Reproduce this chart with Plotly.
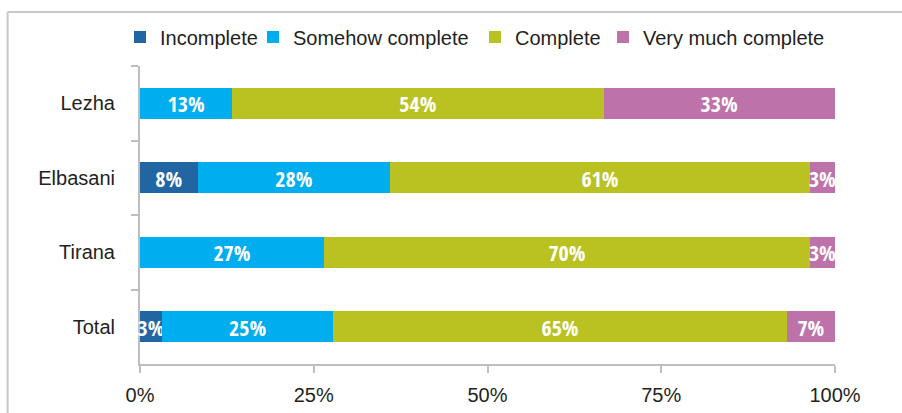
import plotly.graph_objects as go

categories = ["Lezha", "Elbasani", "Tirana", "Total"]
series_names = ["Incomplete", "Somehow complete", "Complete", "Very much complete"]
# segment lengths (% of respondents)
incomplete = [0, 8.3, 0, 3.2]
somehow_complete = [13.3, 27.7, 26.5, 24.6]
complete = [53.4, 60.4, 69.9, 65.3]
very_much_complete = [33.3, 3.6, 3.6, 6.9]
# value labels printed on the bars
incomplete_labels = ["", "8%", "", "3%"]
somehow_complete_labels = ["13%", "28%", "27%", "25%"]
complete_labels = ["54%", "61%", "70%", "65%"]
very_much_complete_labels = ["33%", "3%", "3%", "7%"]
colors = ["#2165A3", "#00AEEF", "#BAC222", "#BE72AA"]
x_ticks = [0, 25, 50, 75, 100]

series = [incomplete, somehow_complete, complete, very_much_complete]
labels = [incomplete_labels, somehow_complete_labels, complete_labels, very_much_complete_labels]

W, H = 902, 413
L, R, T, B = 139.5, 835, 66, 364
legend_ids = ["legend", "legend2", "legend3", "legend4"]
legend_left_px = [120, 253, 475, 603]

label_font = "Open Sans Condensed, Liberation Sans Narrow, Roboto Condensed, Liberation Sans, Arial, sans-serif"

fig = go.Figure()
for name, vals, txt, col, lid in zip(series_names, series, labels, colors, legend_ids):
    fig.add_trace(go.Bar(
        y=categories, x=vals, name=name, orientation="h", legend=lid,
        marker=dict(color=col, line=dict(width=0)),
        text=txt,
        textposition="inside", insidetextanchor="middle", textangle=0,
        textfont=dict(family=label_font, size=22, color="white", weight="bold"),
        cliponaxis=False, hoverinfo="skip",
    ))

axis_gray = "#BDBEC0"
font_main = "Liberation Sans, Arial, Helvetica, sans-serif"

legend_layout = {}
for lid, lx in zip(legend_ids, legend_left_px):
    legend_layout[lid] = dict(
        orientation="h", xref="container", yref="container",
        x=lx / W, xanchor="left", y=1 - 37 / H, yanchor="middle",
        font=dict(size=20, color="#231F20", family=font_main),
        itemclick=False, itemdoubleclick=False, bgcolor="rgba(0,0,0,0)", borderwidth=0)

fig.update_layout(
    template="none",
    width=W, height=H,
    barmode="stack", bargap=0.58,
    margin=dict(l=L, r=W - R, t=T, b=H - B, pad=0, autoexpand=False),
    paper_bgcolor="white", plot_bgcolor="white",
    font=dict(family=font_main, size=20, color="#231F20"),
    uniformtext=dict(minsize=22, mode="show"),
    showlegend=True,
    xaxis=dict(range=[0, 100], tickvals=x_ticks, ticktext=[f"{v}%" for v in x_ticks],
               showgrid=False, zeroline=False, showline=True, linecolor=axis_gray, linewidth=2,
               ticks="outside", ticklen=7, tickwidth=2, tickcolor=axis_gray,
               ticklabelstandoff=5, layer="below traces", automargin=False, fixedrange=True),
    yaxis=dict(categoryorder="array", categoryarray=categories, autorange="reversed",
               showgrid=False, zeroline=False, showline=True, linecolor=axis_gray, linewidth=2,
               ticks="outside", ticklen=7, tickwidth=2, tickcolor=axis_gray, tickson="boundaries",
               ticklabelstandoff=19, layer="below traces", automargin=False, fixedrange=True),
    **legend_layout,
)

# outer frame (top and left edges visible in the reference)
fig.add_shape(type="line", xref="paper", yref="paper",
              x0=(7 - L) / (R - L), x1=(W + 5 - L) / (R - L),
              y0=(B - 12) / (B - T), y1=(B - 12) / (B - T),
              line=dict(color="#C8C8C8", width=2))
fig.add_shape(type="line", xref="paper", yref="paper",
              x0=(7 - L) / (R - L), x1=(7 - L) / (R - L),
              y0=(B - 12) / (B - T), y1=(B - H - 5) / (B - T),
              line=dict(color="#C8C8C8", width=2))

fig.write_html("out.html", config={"displayModeBar": False},
               post_script="document.body.style.margin='0';")
